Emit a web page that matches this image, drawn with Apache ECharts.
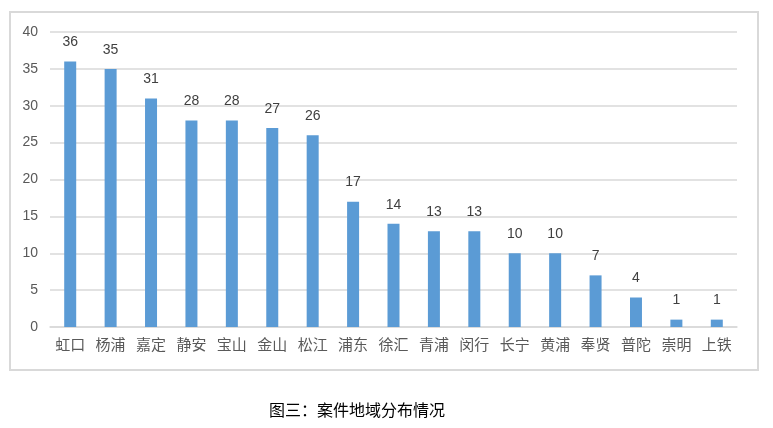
<!DOCTYPE html>
<html><head><meta charset="utf-8">
<script src="https://cdn.jsdelivr.net/npm/echarts@6/dist/echarts.min.js"></script>
<style>html,body{margin:0;padding:0;background:#fff}#c{width:773px;height:428px}</style>
</head><body><div id="c"></div>
<script>
const categories = ['虹口','杨浦','嘉定','静安','宝山','金山','松江','浦东','徐汇','青浦','闵行','长宁','黄浦','奉贤','普陀','崇明','上铁'];
const values = [36,35,31,28,28,27,26,17,14,13,13,10,10,7,4,1,1];
const chartTitle = '图三：案件地域分布情况';
const chart = echarts.init(document.getElementById('c'), null, {renderer:'canvas'});
chart.setOption({
  animation:false,
  backgroundColor:'#fff',
  title:{text:chartTitle,left:352,top:397,textAlign:'center',textStyle:{fontFamily:'Noto Sans CJK SC',fontSize:16,fontWeight:'normal',color:'#000'}},
  graphic:[{type:'rect',shape:{x:10,y:12,width:748,height:358},style:{fill:'none',stroke:'#d9d9d9',lineWidth:2},silent:true}],
  grid:{left:50,right:36,top:32,bottom:101},
  xAxis:{type:'category',data:categories,
    axisLine:{lineStyle:{color:'#d9d9d9',width:1.5}},axisTick:{show:false},
    axisLabel:{color:'#595959',fontSize:15,fontFamily:'Noto Sans CJK SC',margin:10,interval:0}},
  yAxis:{type:'value',min:0,max:40,interval:5,
    axisLine:{show:false},axisTick:{show:false},
    splitLine:{lineStyle:{color:'#d9d9d9',width:1.5}},
    axisLabel:{color:'#595959',fontSize:14,fontFamily:'Liberation Sans',margin:12}},
  series:[{type:'bar',data:values,barWidth:12,itemStyle:{color:'#5b9bd5'},
    label:{show:true,position:'top',distance:12,color:'#404040',fontSize:14,fontFamily:'Liberation Sans'}}]
});
</script></body></html>
